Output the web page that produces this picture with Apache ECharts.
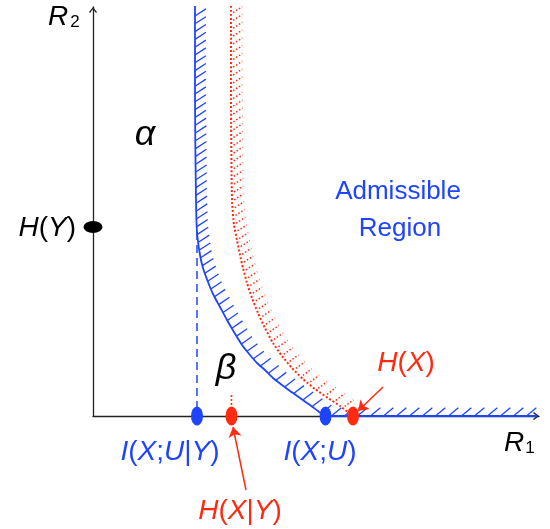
<!DOCTYPE html>
<html><head><meta charset="utf-8">
<script src="https://cdn.jsdelivr.net/npm/echarts@6/dist/echarts.min.js"></script>
<style>html,body{margin:0;padding:0;background:#fff}#c{width:550px;height:529px}</style>
</head><body><div id="c"></div>
<script>
// ---- data (x = R1, y = R2, arbitrary units) ----
const blueBoundary = [[102,410],[102,316],[103,216],[104,184],[107,161],[110,148],[115,134],[120,122],[127,109],[134,96],[141,84],[149,71],[157,61],[164,53],[172,46],[180,38],[189,31],[197,25],[207,18],[217,11],[225,5],[232,0],[444,0]];
const redBoundary = [[138,410],[138,316],[139,216],[141,191],[144,176],[147,161],[150,148],[154,133],[159,118],[165,103],[172,88],[180,73],[189,60],[199,48],[210,37],[222,27],[235,18],[247,10],[260,0]];
const blueDashed = [[104,184],[104,0]];
const redDotted = [[138.5,21],[138.5,0]];
const blueDots = [[104,0],[232.5,0]];
const redDots = [[138.5,0],[260,0]];
const hyDot = [[0,189]];
const arrowHX = [[290,29],[265,5]];
const arrowHXY = [[153,-74],[140,-11]];
const labelTexts = {
  hy: '{i|H}{n|(}{i|Y}{n|)}',
  ixuy: '{i|I}{n|(}{i|X}{n|;}{i|U}{n||}{i|Y}{n|)}',
  ixu: '{i|I}{n|(}{i|X}{n|;}{i|U}{n|)}',
  hxy: '{i|H}{n|(}{i|X}{n||}{i|Y}{n|)}',
  hx: '{i|H}{n|(}{i|X}{n|)}',
  region: ['Admissible', 'Region'],
  alpha: 'α', beta: 'β'
};

const BLUE = '#1f44ff', RED = '#ff2a10', FONT = '"Liberation Sans", Arial, sans-serif';
const chevron = 'path://M4,0 L8,5 L7,6 L4,2 L1,6 L0,5 Z';

// hatch ticks placed along the boundary (arc-length stepping, pixel space)
function hatch(points, o) {
  return function (params, api) {
    const px = points.map(p => api.coord(p));
    const children = [];
    let next = o.start;
    let acc = 0;
    for (let i = 0; i < px.length - 1; i++) {
      const dx = px[i + 1][0] - px[i][0], dy = px[i + 1][1] - px[i][1];
      const L = Math.hypot(dx, dy);
      if (L === 0) continue;
      const tx = Math.abs(dx / L);
      const step = o.sv + (o.sh - o.sv) * tx * tx;
      const ang = (o.av + (o.ah - o.av) * tx * tx) * Math.PI / 180;
      const d = [Math.cos(ang), -Math.sin(ang)];
      while (next <= acc + L) {
        const t = (next - acc) / L;
        const x = px[i][0] + t * dx, y = px[i][1] + t * dy;
        if (!o.maxX || x <= o.maxX) {
          children.push({
            type: 'line',
            shape: { x1: x + d[0] * o.gap, y1: y + d[1] * o.gap, x2: x + d[0] * (o.gap + o.len), y2: y + d[1] * (o.gap + o.len) },
            style: { stroke: o.color, lineWidth: o.width, lineDash: o.dash || null }
          });
        }
        next += step;
      }
      acc += L;
    }
    return { type: 'group', children };
  };
}

function richLabel(text, x, y, color, align) {
  return {
    type: 'text', x, y, z: 100,
    style: {
      text, fill: color, align: align || 'center', verticalAlign: 'middle',
      fontSize: 28, fontFamily: FONT,
      rich: {
        i: { fontStyle: 'italic', fontSize: 28, fontFamily: FONT, fill: color },
        n: { fontStyle: 'normal', fontSize: 28, fontFamily: FONT, fill: color }
      }
    }
  };
}

const chart = echarts.init(document.getElementById('c'), null, { renderer: 'canvas' });
chart.setOption({
  animation: false,
  backgroundColor: '#fff',
  grid: { left: 93, right: 11, top: 7, bottom: 113 },
  xAxis: {
    type: 'value', min: 0, max: 446,
    axisLine: { show: true, symbol: ['none', chevron], symbolSize: [8, 6], symbolOffset: [0, -3], lineStyle: { color: '#222', width: 1.3 } },
    axisTick: { show: false }, axisLabel: { show: false }, splitLine: { show: false }
  },
  yAxis: {
    type: 'value', min: 0, max: 409,
    axisLine: { show: true, symbol: ['none', chevron], symbolSize: [8, 6], symbolOffset: [0, -3], lineStyle: { color: '#222', width: 1.3 } },
    axisTick: { show: false }, axisLabel: { show: false }, splitLine: { show: false }
  },
  series: [
    { type: 'custom', coordinateSystem: 'cartesian2d', clip: false, silent: true, data: [[0, 0]], z: 2,
      renderItem: hatch(redBoundary, { start: 8, sv: 7.8, sh: 12, av: 33, ah: 40, gap: 2.5, len: 11, color: RED, width: 1.5, dash: [1.5, 2] }) },
    { type: 'custom', coordinateSystem: 'cartesian2d', clip: false, silent: true, data: [[0, 0]], z: 2,
      renderItem: hatch(blueBoundary, { start: 10, sv: 7.8, sh: 13, av: 33, ah: 40, gap: 0, len: 13, color: BLUE, width: 1.3, maxX: 528 }) },
    { type: 'line', data: redBoundary, showSymbol: false, clip: false, z: 3, smooth: 0.2,
      lineStyle: { color: RED, width: 2, type: [2, 2] } },
    { type: 'line', data: redDotted, showSymbol: false, clip: false, z: 3,
      lineStyle: { color: RED, width: 1.6, type: [2, 2] } },
    { type: 'line', data: blueDashed, showSymbol: false, clip: false, z: 3,
      lineStyle: { color: BLUE, width: 1.5, type: [8, 5] } },
    { type: 'line', data: blueBoundary, showSymbol: false, clip: false, z: 4, smooth: 0.2,
      lineStyle: { color: BLUE, width: 1.8 } },
    { type: 'lines', coordinateSystem: 'cartesian2d', clip: false, z: 5,
      symbol: ['none', 'arrow'], symbolSize: 10,
      lineStyle: { color: RED, width: 1.5, opacity: 1 },
      data: [{ coords: arrowHX }, { coords: arrowHXY }] },
    { type: 'scatter', data: blueDots, symbolSize: [12, 19], clip: false, z: 6, itemStyle: { color: BLUE, opacity: 1 } },
    { type: 'scatter', data: redDots, symbolSize: [12, 19], clip: false, z: 6, itemStyle: { color: RED, opacity: 1 } },
    { type: 'scatter', data: hyDot, symbolSize: [19, 12], clip: false, z: 6, itemStyle: { color: '#000', opacity: 1 } }
  ],
  graphic: [
    { type: 'text', x: 58, y: 17, z: 100, style: { text: 'R', fontSize: 28, fontStyle: 'italic', fontFamily: FONT, fill: '#000', align: 'center', verticalAlign: 'middle' } },
    { type: 'text', x: 75, y: 22, z: 100, style: { text: '2', fontSize: 17, fontFamily: FONT, fill: '#000', align: 'center', verticalAlign: 'middle' } },
    { type: 'text', x: 514, y: 443, z: 100, style: { text: 'R', fontSize: 28, fontStyle: 'italic', fontFamily: FONT, fill: '#000', align: 'center', verticalAlign: 'middle' } },
    { type: 'text', x: 530, y: 448, z: 100, style: { text: '1', fontSize: 17, fontFamily: FONT, fill: '#000', align: 'center', verticalAlign: 'middle' } },
    { type: 'text', x: 145, y: 135, z: 100, style: { text: labelTexts.alpha, fontSize: 36, fontStyle: 'italic', fontFamily: FONT, fill: '#000', align: 'center', verticalAlign: 'middle' } },
    { type: 'text', x: 226, y: 369, z: 100, style: { text: labelTexts.beta, fontSize: 36, fontStyle: 'italic', fontFamily: FONT, fill: '#000', align: 'center', verticalAlign: 'middle' } },
    { type: 'text', x: 398, y: 192, z: 100, style: { text: labelTexts.region[0], fontSize: 26, fontFamily: FONT, fill: BLUE, align: 'center', verticalAlign: 'middle' } },
    { type: 'text', x: 400, y: 229, z: 100, style: { text: labelTexts.region[1], fontSize: 26, fontFamily: FONT, fill: BLUE, align: 'center', verticalAlign: 'middle' } },
    richLabel(labelTexts.hy, 76, 228, '#000', 'right'),
    richLabel(labelTexts.ixuy, 170, 452, BLUE),
    richLabel(labelTexts.ixu, 320, 452, BLUE),
    richLabel(labelTexts.hxy, 240, 511, RED),
    richLabel(labelTexts.hx, 406, 363, RED)
  ]
});
</script></body></html>
